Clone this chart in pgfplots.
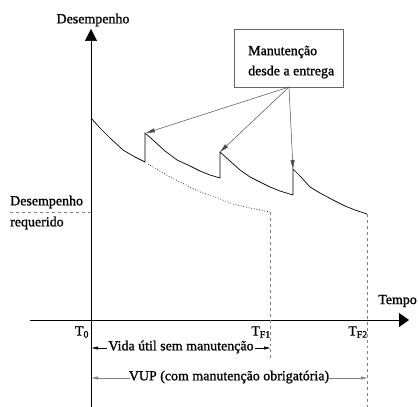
\documentclass[border=0pt]{standalone}
\usepackage{fontspec}
\setmainfont{Liberation Serif}[FakeBold=1.2]
\usepackage{pgfplots}
\pgfplotsset{compat=1.18}
\usetikzlibrary{arrows.meta}
\begin{document}
\begin{tikzpicture}[every node/.style={font=\fontsize{14}{16}\selectfont, inner sep=0pt}]
\begin{axis}[
  scale only axis, width=418bp, height=407bp,
  xmin=0, xmax=418, ymin=0, ymax=407, y dir=reverse,
  hide axis, clip=false]
% frame for bounding box
\coordinate (BL) at (axis cs:0,407);
\coordinate (TR) at (axis cs:418,0);
% axes
\draw[line width=0.7pt, -{Triangle[length=12bp,width=12bp]}] (axis cs:91,407) -- (axis cs:91,29);
\draw[line width=0.8pt, -{Triangle[length=10bp,width=14bp]}] (axis cs:30,320) -- (axis cs:409,320);
\node at (axis cs:93,20) {Desempenho};
\node[anchor=east] at (axis cs:417,301) {Tempo};
% performance curve
\addplot[black, line width=0.7pt] coordinates {
 (91,118) (100,128) (110,138) (123,150) (135,157) (145,162)
 (145,133) (153,140) (165,151) (177,160) (190,166) (200,171) (210,175) (220,178)
 (220,152) (230,161) (240,170) (250,177) (260,182) (270,187) (280,191) (293,195)
 (293,169) (300,176) (310,187) (320,193) (333,200) (345,206) (355,210) (367,214)
};
% without maintenance
\addplot[black, dotted, line width=0.7pt] coordinates {
 (148,164) (160,171) (170,177) (180,182) (190,187) (200,192) (210,195) (233,204) (250,208) (270,212)
};
% required performance
\addplot[gray, dashed, line width=0.6pt] coordinates {(10,212) (91,212)};
\node[anchor=west] at (axis cs:10,202) {Desempenho};
\node[anchor=west] at (axis cs:10,223) {requerido};
% vertical dashed
\addplot[gray, dashed, line width=0.6pt] coordinates {(270,212) (270,360)};
\addplot[gray, dashed, line width=0.6pt] coordinates {(367,214) (367,407)};
% T labels
\node at (axis cs:82,332) {T\textsubscript{0}};
\node at (axis cs:261,332) {T\textsubscript{F1}};
\node at (axis cs:358,332) {T\textsubscript{F2}};
% dimension lines
\draw[black, line width=0.5pt, -{Triangle[length=6bp,width=3bp]}] (axis cs:107,348) -- (axis cs:92,348);
\draw[black, line width=0.5pt, -{Triangle[length=6bp,width=3bp]}] (axis cs:255,348) -- (axis cs:270,348);
\node at (axis cs:181,347) {Vida útil sem manutenção};
\draw[gray, line width=0.5pt, -{Triangle[length=6bp,width=3bp]}] (axis cs:130,378) -- (axis cs:92,378);
\draw[gray, line width=0.5pt, -{Triangle[length=6bp,width=3bp]}] (axis cs:329,378) -- (axis cs:367,378);
\node at (axis cs:229,377) {VUP (com manutenção obrigatória)};
% box
\draw[gray!80!black, line width=0.5pt] (axis cs:234,29) rectangle (axis cs:343,87);
\node[anchor=west] at (axis cs:248,52) {Manutenção};
\node[anchor=west] at (axis cs:248,72) {desde a entrega};
\draw[gray!60!black, line width=0.5pt, -{Triangle[length=9bp,width=4bp]}] (axis cs:289,87) -- (axis cs:146,133);
\draw[gray!60!black, line width=0.5pt, -{Triangle[length=9bp,width=4bp]}] (axis cs:289,87) -- (axis cs:220,152);
\draw[gray!60!black, line width=0.5pt, -{Triangle[length=9bp,width=4bp]}] (axis cs:289,87) -- (axis cs:293,169);
\end{axis}
\pgfresetboundingbox
\path[use as bounding box] (BL) rectangle (TR);
\end{tikzpicture}
\end{document}
